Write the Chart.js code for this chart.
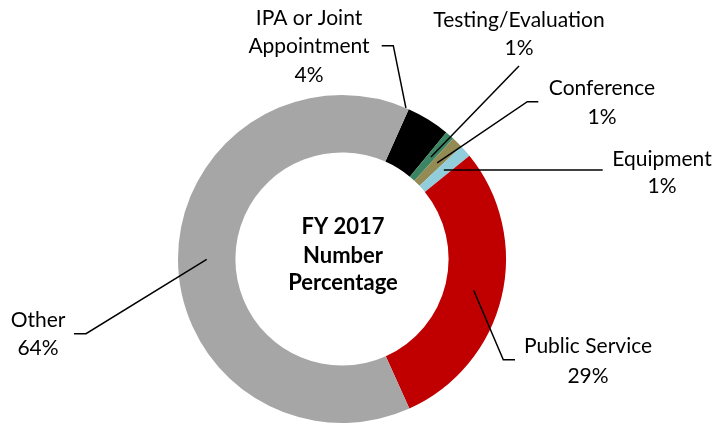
<!DOCTYPE html>
<html>
<head>
<meta charset="utf-8">
<script src="https://cdn.jsdelivr.net/npm/chart.js@4.4.1/dist/chart.umd.min.js"></script>
<style>
  html, body { margin: 0; padding: 0; background: #fff; }
  #wrap { position: relative; width: 717px; height: 424px; }
</style>
</head>
<body>
<div id="wrap"><canvas id="c" width="717" height="424"></canvas></div>
<script>
// ---- data ----
const categories = ['IPA or Joint Appointment', 'Testing/Evaluation', 'Conference', 'Equipment', 'Public Service', 'Other'];
const values = [4.3, 0.9, 1.1, 1.2, 29.1, 63.4];
const pctLabels = ['4%', '1%', '1%', '1%', '29%', '64%'];
const labelLines = [['IPA or Joint', 'Appointment'], ['Testing/Evaluation'], ['Conference'], ['Equipment'], ['Public Service'], ['Other']];
const centerTitle = ['FY 2017', 'Number', 'Percentage'];

// ---- styles / layout ----
const colors = ['#000000', '#3C8564', '#948A54', '#92CDDC', '#C00000', '#A6A6A6'];
const FONT = 'Lato, "Open Sans", sans-serif';
const labelLayout = [
  { x: 309, ys: [18, 46, 75], path: [[381.7, 45.7], [393.3, 45.7]], clip: true },
  { x: 519, ys: [20, 48], path: [[519, 66]] },
  { x: 602, ys: [88, 117], path: [[538.3, 101.7], [527.3, 101.7]] },
  { x: 662, ys: [159, 186], path: [[602.7, 170]] },
  { x: 588, ys: [346, 376], path: [[515, 359.7], [503.3, 359.7]] },
  { x: 38, ys: [320, 348], path: [[74, 333.7], [86, 333.7]] }
];

const labelPlugin = {
  id: 'labels',
  afterDraw(chart) {
    const ctx = chart.ctx;
    const meta = chart.getDatasetMeta(0);
    ctx.save();
    // leader lines
    ctx.strokeStyle = '#000';
    ctx.lineWidth = 1.5;
    meta.data.forEach((arc, i) => {
      const L = labelLayout[i];
      const p = arc.getProps(['x', 'y', 'startAngle', 'endAngle', 'innerRadius', 'outerRadius'], true);
      const mid = (p.startAngle + p.endAngle) / 2;
      const r = (p.innerRadius + p.outerRadius) / 2;
      let tx = p.x + Math.cos(mid) * r;
      let ty = p.y + Math.sin(mid) * r;
      const last = L.path[L.path.length - 1];
      if (L.clip) {
        const dx = tx - last[0], dy = ty - last[1];
        const fx = last[0] - p.x, fy = last[1] - p.y;
        const a = dx * dx + dy * dy, b = 2 * (fx * dx + fy * dy), c = fx * fx + fy * fy - p.outerRadius * p.outerRadius;
        const disc = b * b - 4 * a * c;
        if (disc >= 0) {
          const t = (-b - Math.sqrt(disc)) / (2 * a);
          if (t > 0 && t < 1) { tx = last[0] + t * dx; ty = last[1] + t * dy; }
        }
      }
      ctx.beginPath();
      ctx.moveTo(L.path[0][0], L.path[0][1]);
      for (let k = 1; k < L.path.length; k++) ctx.lineTo(L.path[k][0], L.path[k][1]);
      ctx.lineTo(tx, ty);
      ctx.stroke();
    });
    // label text
    ctx.fillStyle = '#000';
    ctx.textAlign = 'center';
    ctx.textBaseline = 'middle';
    ctx.font = '21px ' + FONT;
    labelLines.forEach((lines, i) => {
      const L = labelLayout[i];
      const all = lines.concat([pctLabels[i]]);
      all.forEach((t, k) => ctx.fillText(t, L.x, L.ys[k]));
    });
    // center text
    const a0 = meta.data[0];
    ctx.font = 'bold 22px ' + FONT;
    const cx = a0.x, cy = a0.y;
    const offs = [-32, -3, 24];
    centerTitle.forEach((t, k) => ctx.fillText(t, cx + 1, cy + offs[k]));
    ctx.restore();
  }
};

new Chart(document.getElementById('c'), {
  type: 'doughnut',
  data: {
    labels: categories,
    datasets: [{
      data: values,
      backgroundColor: colors,
      borderWidth: 0,
      hoverOffset: 0
    }]
  },
  options: {
    responsive: false,
    animation: false,
    rotation: 24,
    cutout: '65%',
    layout: { padding: { top: 95, bottom: 1, left: 14, right: 47 } },
    plugins: { legend: { display: false }, tooltip: { enabled: false } }
  },
  plugins: [labelPlugin]
});
</script>
</body>
</html>
